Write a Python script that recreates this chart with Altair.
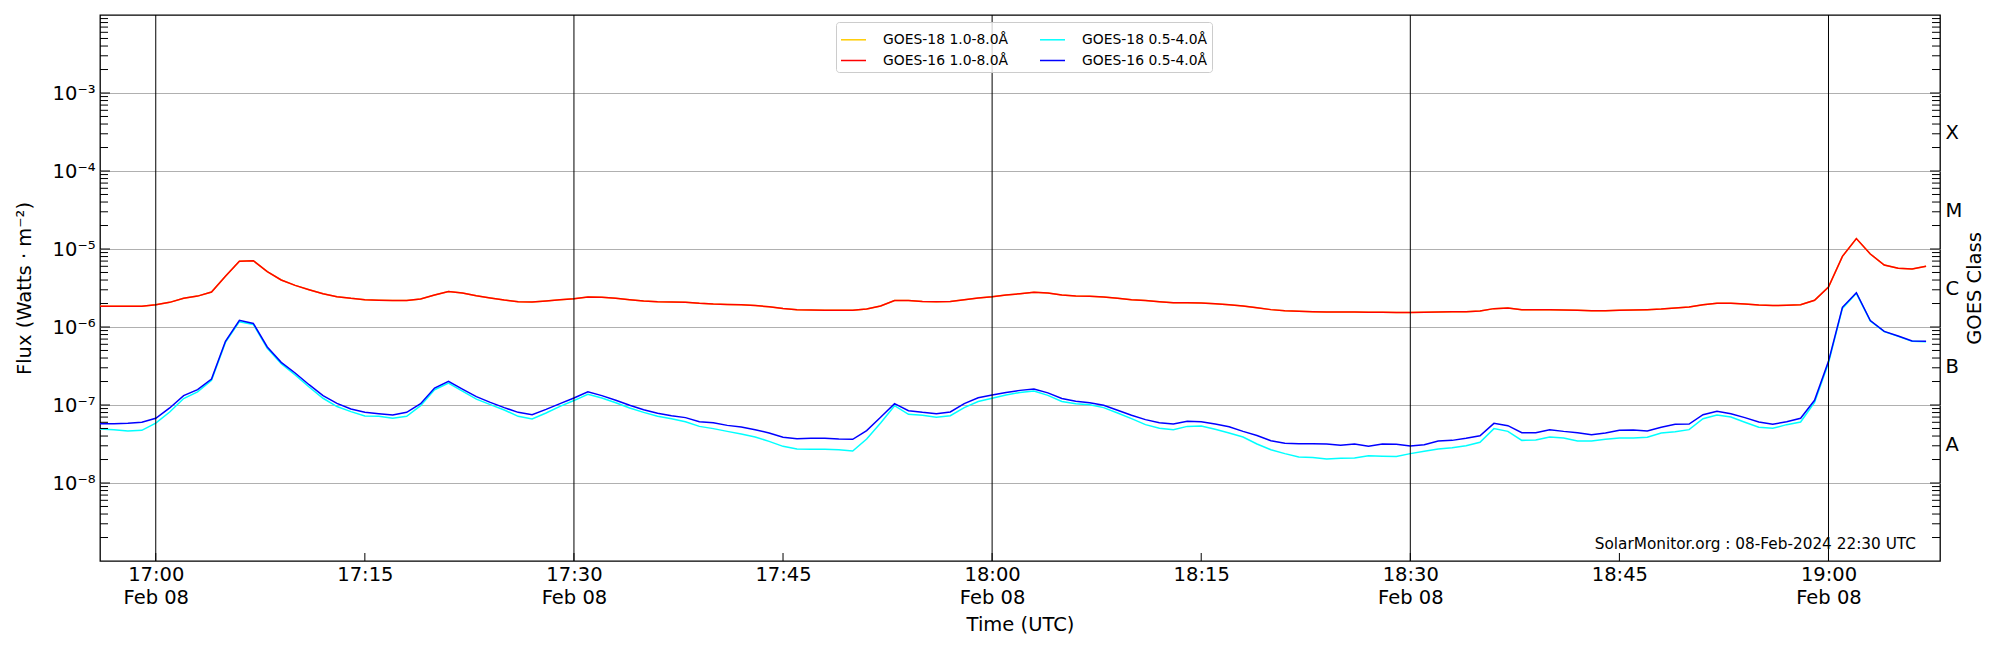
import altair as alt
import pandas as pd

# ---------------- data ----------------
START = "2024-02-08 16:56"
N_POINTS = 132  # 1-minute cadence, 16:56 .. 19:07 UTC

goes16_long = [
    1.84e-6, 1.84e-6, 1.84e-6, 1.84e-6, 1.93e-6, 2.07e-6, 2.33e-6, 2.49e-6, 2.81e-6, 4.47e-6,
    6.95e-6, 7.08e-6, 5.12e-6, 4.01e-6, 3.42e-6, 3.01e-6, 2.67e-6, 2.45e-6, 2.33e-6, 2.24e-6,
    2.20e-6, 2.18e-6, 2.18e-6, 2.29e-6, 2.57e-6, 2.86e-6, 2.73e-6, 2.52e-6, 2.36e-6, 2.22e-6,
    2.11e-6, 2.09e-6, 2.15e-6, 2.23e-6, 2.31e-6, 2.43e-6, 2.40e-6, 2.33e-6, 2.24e-6, 2.15e-6,
    2.11e-6, 2.09e-6, 2.07e-6, 2.01e-6, 1.97e-6, 1.95e-6, 1.93e-6, 1.88e-6, 1.82e-6, 1.73e-6,
    1.67e-6, 1.65e-6, 1.64e-6, 1.64e-6, 1.64e-6, 1.70e-6, 1.86e-6, 2.18e-6, 2.18e-6, 2.13e-6,
    2.11e-6, 2.13e-6, 2.24e-6, 2.36e-6, 2.45e-6, 2.57e-6, 2.67e-6, 2.78e-6, 2.73e-6, 2.57e-6,
    2.49e-6, 2.47e-6, 2.43e-6, 2.33e-6, 2.24e-6, 2.18e-6, 2.11e-6, 2.05e-6, 2.05e-6, 2.03e-6,
    1.99e-6, 1.93e-6, 1.86e-6, 1.76e-6, 1.67e-6, 1.62e-6, 1.59e-6, 1.57e-6, 1.56e-6, 1.56e-6,
    1.56e-6, 1.54e-6, 1.54e-6, 1.53e-6, 1.53e-6, 1.54e-6, 1.56e-6, 1.57e-6, 1.57e-6, 1.60e-6,
    1.72e-6, 1.75e-6, 1.67e-6, 1.67e-6, 1.67e-6, 1.65e-6, 1.64e-6, 1.62e-6, 1.62e-6, 1.64e-6,
    1.65e-6, 1.67e-6, 1.70e-6, 1.75e-6, 1.80e-6, 1.93e-6, 2.02e-6, 2.01e-6, 1.97e-6, 1.91e-6,
    1.88e-6, 1.90e-6, 1.93e-6, 2.20e-6, 3.26e-6, 8.05e-6, 1.36e-5, 8.63e-6, 6.24e-6, 5.65e-6,
    5.55e-6, 6.00e-6,
]

# GOES-18 long channel lies directly under the GOES-16 long channel in the picture
goes18_long = list(goes16_long)

goes16_short = [
    5.77e-8, 5.77e-8, 5.82e-8, 6.00e-8, 6.75e-8, 9.16e-8, 1.32e-7, 1.57e-7, 2.15e-7, 6.55e-7,
    1.22e-6, 1.11e-6, 5.55e-7, 3.52e-7, 2.57e-7, 1.82e-7, 1.32e-7, 1.05e-7, 8.89e-8, 8.05e-8,
    7.74e-8, 7.45e-8, 8.05e-8, 1.04e-7, 1.65e-7, 2.01e-7, 1.60e-7, 1.28e-7, 1.08e-7, 9.25e-8,
    8.05e-8, 7.52e-8, 8.79e-8, 1.04e-7, 1.23e-7, 1.48e-7, 1.32e-7, 1.15e-7, 9.91e-8, 8.71e-8,
    7.82e-8, 7.29e-8, 6.89e-8, 6.11e-8, 5.94e-8, 5.48e-8, 5.22e-8, 4.83e-8, 4.38e-8, 3.85e-8,
    3.70e-8, 3.74e-8, 3.74e-8, 3.66e-8, 3.63e-8, 4.69e-8, 6.95e-8, 1.04e-7, 8.45e-8, 8.05e-8,
    7.74e-8, 8.13e-8, 1.04e-7, 1.24e-7, 1.34e-7, 1.45e-7, 1.54e-7, 1.60e-7, 1.43e-7, 1.21e-7,
    1.12e-7, 1.07e-7, 9.91e-8, 8.55e-8, 7.38e-8, 6.49e-8, 5.94e-8, 5.70e-8, 6.18e-8, 6.11e-8,
    5.70e-8, 5.27e-8, 4.59e-8, 4.07e-8, 3.49e-8, 3.23e-8, 3.19e-8, 3.19e-8, 3.16e-8, 3.04e-8,
    3.16e-8, 2.95e-8, 3.16e-8, 3.13e-8, 2.98e-8, 3.10e-8, 3.45e-8, 3.52e-8, 3.74e-8, 4.03e-8,
    5.82e-8, 5.43e-8, 4.42e-8, 4.42e-8, 4.83e-8, 4.59e-8, 4.42e-8, 4.17e-8, 4.38e-8, 4.73e-8,
    4.78e-8, 4.65e-8, 5.18e-8, 5.65e-8, 5.70e-8, 7.52e-8, 8.30e-8, 7.74e-8, 6.89e-8, 6.05e-8,
    5.65e-8, 6.11e-8, 6.75e-8, 1.15e-7, 3.63e-7, 1.79e-6, 2.75e-6, 1.21e-6, 8.79e-7, 7.67e-7,
    6.62e-7, 6.55e-7,
]

goes18_short = [
    4.92e-8, 4.83e-8, 4.65e-8, 4.73e-8, 5.87e-8, 8.13e-8, 1.21e-7, 1.47e-7, 2.07e-7, 6.35e-7,
    1.17e-6, 1.08e-6, 5.32e-7, 3.39e-7, 2.43e-7, 1.70e-7, 1.22e-7, 9.55e-8, 8.22e-8, 7.23e-8,
    7.16e-8, 6.75e-8, 7.16e-8, 9.79e-8, 1.57e-7, 1.91e-7, 1.51e-7, 1.19e-7, 1.01e-7, 8.63e-8,
    7.16e-8, 6.62e-8, 7.89e-8, 9.62e-8, 1.14e-7, 1.37e-7, 1.23e-7, 1.07e-7, 9.16e-8, 8.05e-8,
    7.16e-8, 6.68e-8, 6.11e-8, 5.32e-8, 4.98e-8, 4.59e-8, 4.25e-8, 3.89e-8, 3.42e-8, 2.95e-8,
    2.73e-8, 2.70e-8, 2.70e-8, 2.67e-8, 2.57e-8, 3.66e-8, 5.87e-8, 9.79e-8, 7.59e-8, 7.38e-8,
    6.95e-8, 7.29e-8, 9.25e-8, 1.11e-7, 1.22e-7, 1.34e-7, 1.45e-7, 1.51e-7, 1.33e-7, 1.11e-7,
    1.04e-7, 1.01e-7, 9.25e-8, 7.89e-8, 6.68e-8, 5.60e-8, 5.02e-8, 4.83e-8, 5.32e-8, 5.38e-8,
    4.88e-8, 4.38e-8, 3.89e-8, 3.16e-8, 2.67e-8, 2.38e-8, 2.15e-8, 2.13e-8, 2.03e-8, 2.07e-8,
    2.09e-8, 2.24e-8, 2.20e-8, 2.18e-8, 2.38e-8, 2.55e-8, 2.73e-8, 2.84e-8, 3.01e-8, 3.32e-8,
    4.98e-8, 4.59e-8, 3.52e-8, 3.56e-8, 3.89e-8, 3.78e-8, 3.45e-8, 3.45e-8, 3.63e-8, 3.78e-8,
    3.78e-8, 3.85e-8, 4.38e-8, 4.55e-8, 4.83e-8, 6.68e-8, 7.45e-8, 7.01e-8, 6.00e-8, 5.18e-8,
    5.02e-8, 5.60e-8, 6.05e-8, 1.08e-7, 3.45e-7, 1.73e-6, 2.70e-6, 1.19e-6, 8.71e-7, 7.59e-7,
    6.55e-7, 6.49e-7,
]

# legend order (filled column by column): left column long channels, right column short channels
series_names = ["GOES-18 1.0-8.0Å", "GOES-16 1.0-8.0Å", "GOES-18 0.5-4.0Å", "GOES-16 0.5-4.0Å"]
series_colors = ["#ffcc00", "#ff0000", "#00ffff", "#0000ff"]

half_hour_lines = ["2024-02-08T17:00:00Z", "2024-02-08T17:30:00Z", "2024-02-08T18:00:00Z",
                   "2024-02-08T18:30:00Z", "2024-02-08T19:00:00Z"]
quarter_ticks = ["2024-02-08T17:00:00Z", "2024-02-08T17:15:00Z", "2024-02-08T17:30:00Z",
                 "2024-02-08T17:45:00Z", "2024-02-08T18:00:00Z", "2024-02-08T18:15:00Z",
                 "2024-02-08T18:30:00Z", "2024-02-08T18:45:00Z", "2024-02-08T19:00:00Z"]
decades = [1e-8, 1e-7, 1e-6, 1e-5, 1e-4, 1e-3]
class_positions = [3.162e-8, 3.162e-7, 3.162e-6, 3.162e-5, 3.162e-4]  # A, B, C, M, X
minor_ticks = [m * 10.0 ** k for k in range(-9, -2) for m in range(2, 10)]
watermark = "SolarMonitor.org : 08-Feb-2024 22:30 UTC"

# ---------------- tables ----------------
times = [t.strftime("%Y-%m-%dT%H:%M:%SZ") for t in pd.date_range(START, periods=N_POINTS, freq="1min")]
draw_order = [("GOES-18 1.0-8.0Å", goes18_long), ("GOES-16 1.0-8.0Å", goes16_long),
              ("GOES-18 0.5-4.0Å", goes18_short), ("GOES-16 0.5-4.0Å", goes16_short)]
rows = []
for k, (name, vals) in enumerate(draw_order):
    for t, v in zip(times, vals):
        rows.append({"time": t, "flux": v, "series": name, "z": k})
df = pd.DataFrame(rows)

W, H = 1840, 546
FONT = "DejaVu Sans"
LBL = 19.5

x_dom = [alt.DateTime(year=2024, month=2, date=8, hours=16, minutes=56, utc=True),
         alt.DateTime(year=2024, month=2, date=8, hours=19, minutes=8, utc=True)]
xscale = alt.Scale(type="utc", domain=x_dom)
yscale = alt.Scale(type="log", domain=[1e-9, 1e-2], nice=False)

x_axis = alt.Axis(
    values=[alt.DateTime(year=2024, month=2, date=8, hours=h, minutes=m, utc=True)
            for h, m in [(17, 0), (17, 15), (17, 30), (17, 45), (18, 0), (18, 15), (18, 30), (18, 45), (19, 0)]],
    labelExpr="utcminutes(datum.value) % 30 == 0 ? [utcFormat(datum.value, '%H:%M'), utcFormat(datum.value, '%b %d')] : utcFormat(datum.value, '%H:%M')",
    ticks=False, domain=False, grid=False, labelFontSize=LBL, labelFont=FONT, labelColor="black",
    labelPadding=4, labelLineHeight=23, labelFlush=False, labelOverlap=False,
    title="Time (UTC)", titleFontSize=LBL, titleFont=FONT, titleFontWeight="normal", titleColor="black",
    titleX=920, titleY=63, titleAlign="center", titleBaseline="middle",
)

y_axis_left = alt.Axis(
    values=decades,
    labelExpr="'10⁻' + ['','¹','²','³','⁴','⁵','⁶','⁷','⁸','⁹'][round(-log(datum.value)/LN10)]",
    ticks=False, domain=False, grid=True, gridColor="#b0b0b0", gridWidth=1,
    labelFontSize=LBL, labelFont=FONT, labelColor="black", labelPadding=5, labelOverlap=False,
    title="Flux (Watts · m⁻²)", titleFontSize=LBL, titleFont=FONT, titleFontWeight="normal",
    titleColor="black", titleAngle=270, titleX=-76, titleY=H / 2, titleAlign="center",
    titleBaseline="middle",
)

y_axis_right = alt.Axis(
    orient="right", values=class_positions,
    labelExpr="['A','B','C','M','X'][round(log(datum.value)/LN10 + 7.5)]",
    ticks=False, domain=False, grid=False,
    labelFontSize=LBL, labelFont=FONT, labelColor="black", labelPadding=5, labelOverlap=False,
    title="GOES Class", titleFontSize=LBL, titleFont=FONT, titleFontWeight="normal",
    titleColor="black", titleAngle=270, titleX=34, titleY=H / 2, titleAlign="center",
    titleBaseline="middle",
)

lines = alt.Chart(df).mark_line(strokeWidth=1.5, interpolate="linear").encode(
    x=alt.X("time:T", scale=xscale, axis=x_axis),
    y=alt.Y("flux:Q", scale=yscale, axis=y_axis_left),
    color=alt.Color("series:N",
                    scale=alt.Scale(domain=series_names, range=series_colors),
                    legend=alt.Legend(
                        title=None, orient="none", legendX=736, legendY=7, columns=2,
                        symbolType="stroke", symbolSize=625, symbolStrokeWidth=1.5,
                        labelFontSize=13.9, labelFont=FONT, labelColor="black",
                        labelOffset=16, columnPadding=28, rowPadding=-1, padding=4,
                        strokeColor="#cccccc", fillColor="rgba(255,255,255,0.8)",
                        cornerRadius=3, labelLimit=400)),
    order=alt.Order("z:Q"),
    detail="z:N",
)

vlines = alt.Chart(pd.DataFrame({"t": half_hour_lines})).mark_rule(
    color="black", strokeWidth=1).encode(x=alt.X("t:T", scale=xscale, axis=x_axis))

xticks = alt.Chart(pd.DataFrame({"t": quarter_ticks})).mark_rule(
    color="black", strokeWidth=1).encode(
    x=alt.X("t:T", scale=xscale, axis=x_axis), y=alt.value(H - 8), y2=alt.value(H))

yticks_left_major = alt.Chart(pd.DataFrame({"v": decades})).mark_rule(color="black", strokeWidth=1).encode(
    y=alt.Y("v:Q", scale=yscale, axis=y_axis_left), x=alt.value(0), x2=alt.value(10))
yticks_left_minor = alt.Chart(pd.DataFrame({"v": minor_ticks})).mark_rule(color="black", strokeWidth=1).encode(
    y=alt.Y("v:Q", scale=yscale, axis=y_axis_left), x=alt.value(0), x2=alt.value(8))

text = alt.Chart(pd.DataFrame({"label": [watermark]})).mark_text(
    align="right", baseline="alphabetic", fontSize=15.3, font=FONT, color="black").encode(
    x=alt.value(1816), y=alt.value(534), text="label:N")

left = alt.layer(lines, vlines, xticks, yticks_left_major, yticks_left_minor, text)

yticks_right_major = alt.Chart(pd.DataFrame({"v": decades})).mark_rule(color="black", strokeWidth=1).encode(
    y=alt.Y("v:Q", scale=yscale, axis=y_axis_right), x=alt.value(W - 10), x2=alt.value(W))
yticks_right_minor = alt.Chart(pd.DataFrame({"v": minor_ticks})).mark_rule(color="black", strokeWidth=1).encode(
    y=alt.Y("v:Q", scale=yscale, axis=y_axis_right), x=alt.value(W - 8), x2=alt.value(W))
right = alt.layer(yticks_right_major, yticks_right_minor)

chart = alt.layer(left, right).resolve_scale(y="independent").properties(
    width=W, height=H,
    autosize=alt.AutoSizeParams(type="none"),
    padding={"left": 92, "top": 7, "right": 50, "bottom": 75},
    background="white",
).configure(font=FONT).configure_view(stroke="black", strokeWidth=1.3)

chart.save("out.html", embed_options={"renderer": "svg", "actions": False})
